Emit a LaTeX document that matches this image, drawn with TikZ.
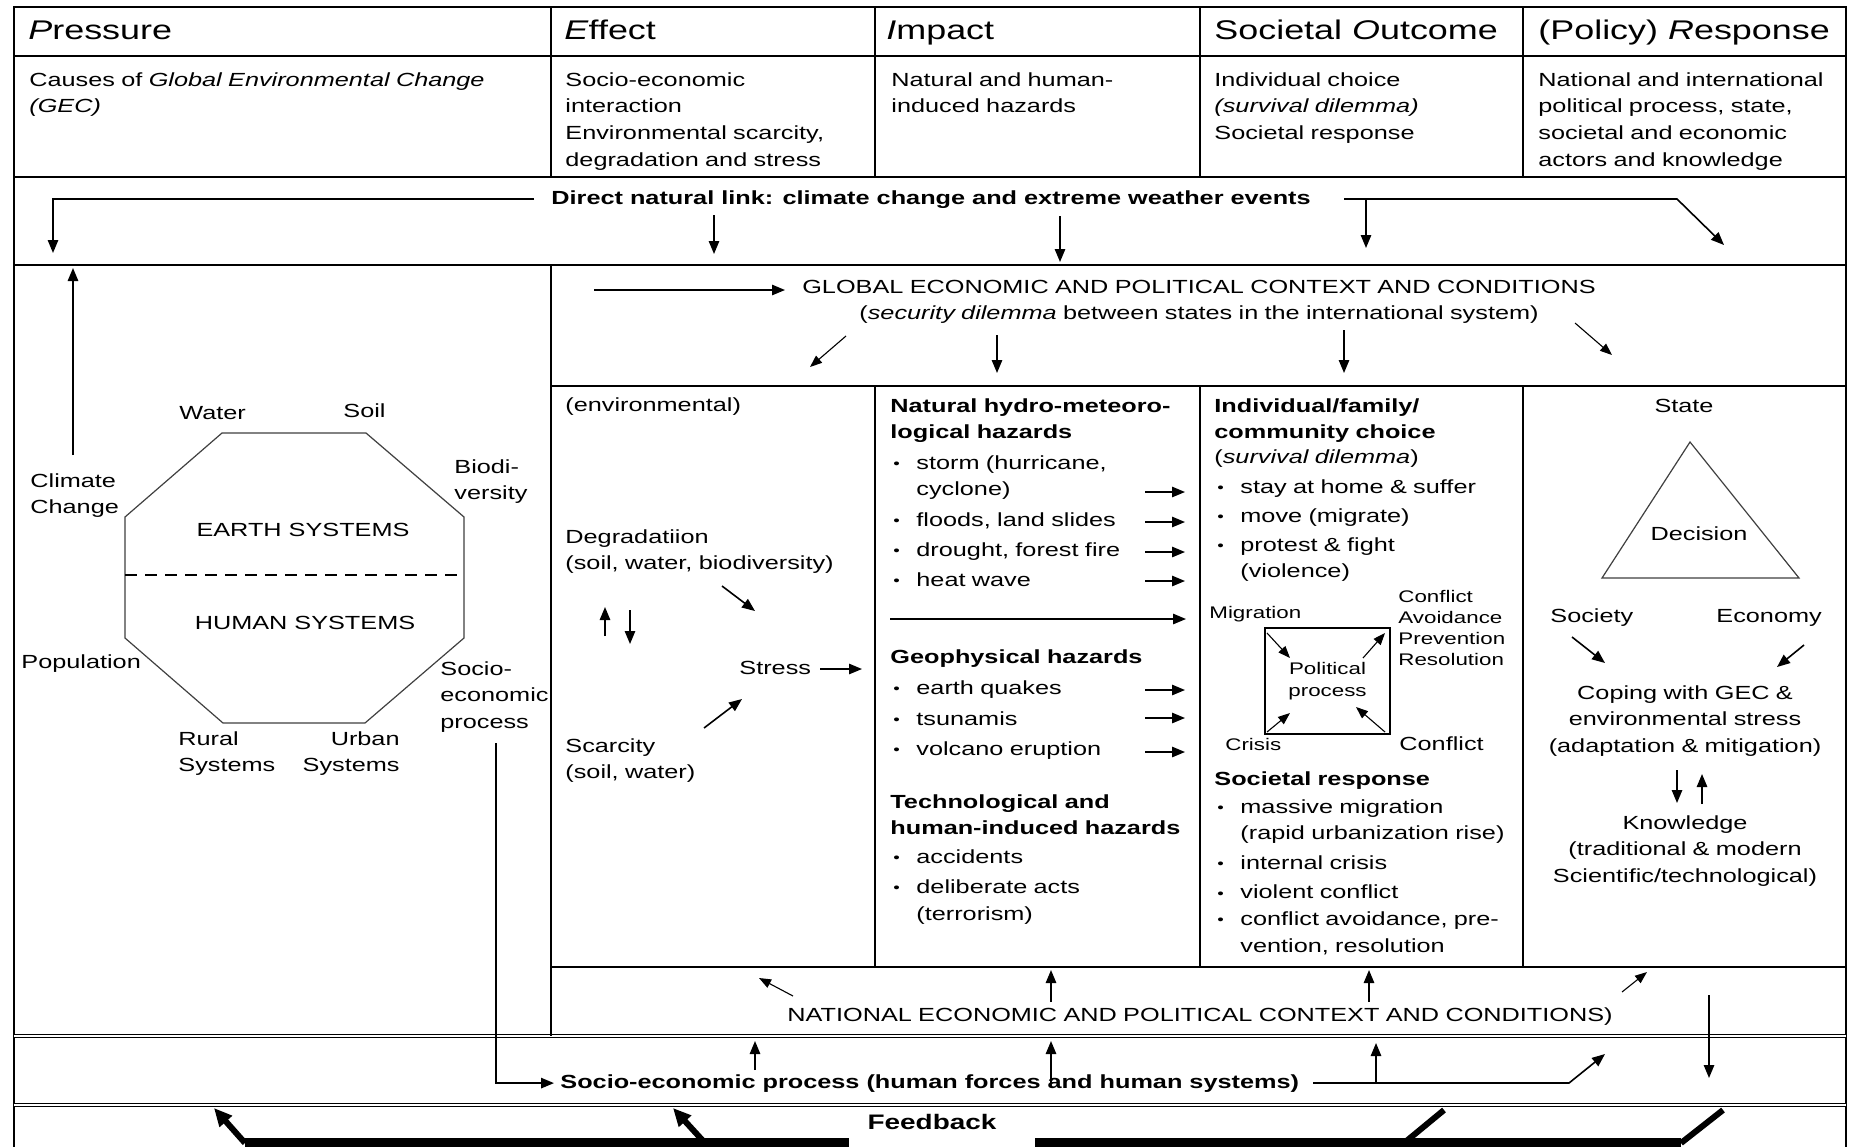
\documentclass[tikz,border=0pt]{standalone}
\usepackage{fontspec}
\setmainfont{Liberation Sans}[FakeStretch=1.33]
\usetikzlibrary{arrows.meta}

\newcommand{\bodyfont}{\fontsize{9.5pt}{13.35pt}\selectfont}
\newcommand{\headfont}{\fontsize{13.5pt}{16pt}\selectfont}
\newcommand{\smallfont}{\fontsize{8.4pt}{10.65pt}\selectfont}
\newcommand{\bitem}{\hspace*{1.5pt}\makebox[11.5pt][l]{\fontsize{7pt}{7pt}\selectfont\raisebox{0.4pt}{\textbullet}}}
\newcommand{\bcont}{\hspace*{13pt}}

\begin{document}
\begin{tikzpicture}[
        x=0.5pt, y=-0.5pt,
        grid_line/.style={line width=0.9pt},
        double_line/.style={double, line width=0.45pt, double distance=0.7pt},
        shape_line/.style={line width=0.6pt, black!75},
        arr/.style={-{Triangle[length=6.5pt,width=5.2pt]}, line width=0.8pt},
        thin_arr/.style={-{Triangle[length=6pt,width=4.6pt]}, line width=0.55pt},
        fat_arr/.style={-{Triangle[length=9pt,width=8pt]}, line width=3pt},
        text_l/.style={inner sep=0pt, anchor=base west, align=left, text width=250pt, font=\bodyfont},
        text_c/.style={inner sep=0pt, anchor=base, align=center, text width=420pt, font=\bodyfont},
        text_r/.style={inner sep=0pt, anchor=base east, align=right, text width=100pt, font=\bodyfont},
        text_s/.style={inner sep=0pt, anchor=base west, align=left, text width=100pt, font=\smallfont},
        text_line/.style={inner sep=0pt, anchor=base west, font=\bodyfont\bfseries},
        head_label/.style={inner sep=0pt, anchor=base west, font=\headfont}
    ]
    \useasboundingbox (0,0) rectangle (1850,1146);
    \fill[white] (0,0) rectangle (1850,1146);

    % Frame, rows and columns
    \draw[grid_line] (14,7) rectangle (1846,1160);
    \draw[grid_line] (14,56) -- (1846,56);
    \draw[grid_line] (14,177) -- (1846,177);
    \draw[grid_line] (14,265) -- (1846,265);
    \draw[grid_line] (551,386) -- (1846,386);
    \draw[grid_line] (551,967) -- (1846,967);
    \draw[double_line] (14,1036) -- (1846,1036);
    \draw[double_line] (14,1105) -- (1846,1105);
    \foreach \x in {551,875,1200,1523}
        \draw[grid_line] (\x,7) -- (\x,177);
    \draw[grid_line] (551,265) -- (551,1036);
    \foreach \x in {875,1200,1523}
        \draw[grid_line] (\x,386) -- (\x,967);

    % Column heads
    \node[head_label] (head_p) at (28,39) {\textit{P}ressure};
    \node[head_label] (head_e) at (564,39) {\textit{E}ffect};
    \node[head_label] (head_i) at (886,39) {\textit{I}mpact};
    \node[head_label] (head_s) at (1214,39) {Societal \textit{O}utcome};
    \node[head_label] (head_r) at (1538,39) {(Policy) \textit{R}esponse};

    % Descriptions
    \node[text_l] (desc_p) at (29,86) {Causes of \textit{Global Environmental Change}\\\textit{(GEC)}};
    \node[text_l] (desc_e) at (565,86) {Socio-economic\\interaction\\Environmental scarcity,\\degradation and stress};
    \node[text_l] (desc_i) at (891,86) {Natural and human-\\induced hazards};
    \node[text_l] (desc_s) at (1214,86) {Individual choice\\\textit{(survival dilemma)}\\Societal response};
    \node[text_l] (desc_r) at (1538,86) {National and international\\political process, state,\\societal and economic\\actors and knowledge};

    % Direct natural link
    \node[text_line] (direct) at (551,204) {Direct natural link: climate change and extreme weather events};
    \coordinate (direct_l) at (534,199);
    \coordinate (direct_ll) at (53,253);
    \draw[arr] (direct_l) -| (direct_ll);
    \coordinate (direct_r) at (1344,199);
    \coordinate (direct_rk) at (1677,199);
    \coordinate (direct_rr) at (1724,245);
    \draw[arr] (direct_r) -- (direct_rk) -- (direct_rr);
    \foreach \xa/\ya/\xb/\yb [count=\i] in {714/215/714/254, 1060/216/1060/262, 1366/199/1366/248}{
        \coordinate (dn\i_s) at (\xa,\ya);
        \coordinate (dn\i_e) at (\xb,\yb);
        \draw[arr] (dn\i_s) -- (dn\i_e);
    }

    % Global context
    \node[text_c] (global) at (1199,293) {GLOBAL ECONOMIC AND POLITICAL CONTEXT AND CONDITIONS\\(\textit{security dilemma} between states in the international system)};
    \foreach \xa/\ya/\xb/\yb [count=\i] in {594/290/785/290, 997/335/997/373, 1344/330/1344/373}{
        \coordinate (gl\i_s) at (\xa,\ya);
        \coordinate (gl\i_e) at (\xb,\yb);
        \draw[arr] (gl\i_s) -- (gl\i_e);
    }
    \foreach \xa/\ya/\xb/\yb [count=\i] in {846/336/810/367, 1575/323/1612/355}{
        \coordinate (gd\i_s) at (\xa,\ya);
        \coordinate (gd\i_e) at (\xb,\yb);
        \draw[thin_arr] (gd\i_s) -- (gd\i_e);
    }

    % Pressure: earth and human systems
    \node[text_l] (climate) at (30,487) {Climate\\Change};
    \coordinate (climate_s) at (73,455);
    \coordinate (climate_e) at (73,268);
    \draw[arr] (climate_s) -- (climate_e);
    \draw[shape_line] (222,433) -- (366,433) -- (464,517) -- (464,638) -- (365,723)
        -- (223,723) -- (125,638) -- (125,517) -- cycle;
    \draw[line width=0.7pt, dash pattern=on 6pt off 4pt] (125,575) -- (464,575);
    \node[inner sep=0pt, font=\bodyfont] (earth) at (303,530) {EARTH SYSTEMS};
    \node[inner sep=0pt, font=\bodyfont] (human) at (305,623) {HUMAN SYSTEMS};
    \node[text_l] (water) at (179,419) {Water};
    \node[text_l] (soil) at (343,417) {Soil};
    \node[text_l] (biodiv) at (454,473) {Biodi-\\versity};
    \node[text_l] (population) at (21,668) {Population};
    \node[text_l] (socio_lab) at (440,675) {Socio-\\economic\\process};
    \node[text_l] (rural) at (178,745) {Rural\\Systems};
    \node[text_r] (urban) at (400,745) {Urban\\Systems};

    % Effect: scarcity, degradation, stress
    \node[text_l] (environ) at (565,411) {(environmental)};
    \node[text_l] (degrad) at (565,543) {Degradatiion\\(soil, water, biodiversity)};
    \node[text_l] (stress) at (739,674) {Stress};
    \node[text_l] (scarcity) at (565,752) {Scarcity\\(soil, water)};
    \foreach \xa/\ya/\xb/\yb [count=\i] in {722/586/755/611, 605/636/605/607, 630/610/630/644,
            820/669/862/669, 704/728/742/699}{
        \coordinate (ef\i_s) at (\xa,\ya);
        \coordinate (ef\i_e) at (\xb,\yb);
        \draw[arr] (ef\i_s) -- (ef\i_e);
    }

    % Impact: hazards
    \node[text_l] (hydro) at (890,412) {\textbf{Natural hydro-meteoro-}\\\textbf{logical hazards}\\[1.8pt]
        \bitem storm (hurricane,\\\bcont cyclone)\\[1.8pt]\bitem floods, land slides\\[1.8pt]
        \bitem drought, forest fire\\[1.8pt]\bitem heat wave};
    \node[text_l] (geo) at (890,663) {\textbf{Geophysical hazards}\\[2.5pt]\bitem earth quakes\\[1.8pt]
        \bitem tsunamis\\[1.8pt]\bitem volcano eruption};
    \node[text_l] (techno) at (890,808) {\textbf{Technological and}\\\textbf{human-induced hazards}\\[0.8pt]
        \bitem accidents\\[2pt]\bitem deliberate acts\\\bcont (terrorism)};
    \foreach \y [count=\i] in {492,522,552,581,690,718,752}{
        \coordinate (hz\i_s) at (1145,\y);
        \coordinate (hz\i_e) at (1185,\y);
        \draw[arr] (hz\i_s) -- (hz\i_e);
    }
    \coordinate (hz_long_s) at (890,619);
    \coordinate (hz_long_e) at (1186,619);
    \draw[arr] (hz_long_s) -- (hz_long_e);

    % Societal outcome
    \node[text_l] (choice) at (1214,412) {\textbf{Individual/family/}\\\textbf{community choice}\\[-1pt]
        (\textit{survival dilemma})\\[1.8pt]\bitem stay at home \& suffer\\[1pt]
        \bitem move (migrate)\\[1pt]\bitem protest \& fight\\\bcont (violence)};
    \node[text_s] (migration) at (1209,618) {Migration};
    \node[text_s] (avoid) at (1398,602) {Conflict\\Avoidance\\Prevention\\Resolution};
    \node[draw, line width=0.8pt, minimum width=62.5pt, minimum height=53pt, inner sep=0pt,
        align=center, font=\smallfont] (politic) at (1327.5,681) {Political\\process};
    \node[text_s] (crisis) at (1225,750) {Crisis};
    \node[text_l] (conflict) at (1399,750) {Conflict};
    \foreach \xa/\ya/\xb/\yb [count=\i] in {1267/633/1290/658, 1363/658/1385/633,
            1267/732/1290/713, 1385/732/1356/707}{
        \coordinate (pp\i_s) at (\xa,\ya);
        \coordinate (pp\i_e) at (\xb,\yb);
        \draw[thin_arr] (pp\i_s) -- (pp\i_e);
    }
    \node[text_l] (response) at (1214,785) {\textbf{Societal response}\\[0.7pt]
        \bitem massive migration\\\bcont (rapid urbanization rise)\\[1.3pt]
        \bitem internal crisis\\[1.5pt]\bitem violent conflict\\
        \bitem conflict avoidance, pre-\\\bcont vention, resolution};

    % Policy response
    \node[text_c] (state) at (1684,412) {State};
    \draw[shape_line] (1690,442) -- (1799,578) -- (1602,578) -- cycle;
    \node[inner sep=0pt, font=\bodyfont] (decision) at (1699,534) {Decision};
    \node[text_l] (society) at (1550,622) {Society};
    \node[text_l] (economy) at (1716,622) {Economy};
    \node[text_c] (coping) at (1685,699) {Coping with GEC \&\\environmental stress\\(adaptation \& mitigation)};
    \node[text_c] (knowledge) at (1685,829) {Knowledge\\(traditional \& modern\\Scientific/technological)};
    \foreach \xa/\ya/\xb/\yb [count=\i] in {1572/637/1605/663, 1804/645/1777/667,
            1677/770/1677/803, 1702/804/1702/774}{
        \coordinate (rs\i_s) at (\xa,\ya);
        \coordinate (rs\i_e) at (\xb,\yb);
        \draw[arr] (rs\i_s) -- (rs\i_e);
    }

    % National context
    \node[text_c] (national) at (1200,1021) {NATIONAL ECONOMIC AND POLITICAL CONTEXT AND CONDITIONS)};
    \foreach \xa/\ya/\xb/\yb [count=\i] in {1051/1002/1051/970, 1369/1002/1369/970, 1709/995/1709/1078}{
        \coordinate (na\i_s) at (\xa,\ya);
        \coordinate (na\i_e) at (\xb,\yb);
        \draw[arr] (na\i_s) -- (na\i_e);
    }
    \foreach \xa/\ya/\xb/\yb [count=\i] in {793/996/759/978, 1622/992/1647/972}{
        \coordinate (nd\i_s) at (\xa,\ya);
        \coordinate (nd\i_e) at (\xb,\yb);
        \draw[thin_arr] (nd\i_s) -- (nd\i_e);
    }

    % Socio-economic process
    \node[text_line] (socio) at (560,1088) {Socio-economic process (human forces and human systems)};
    \coordinate (socio_top) at (496,743);
    \draw[arr] (socio_top) |- ([xshift=-3pt]socio.west);
    \coordinate (socio_r) at (1313,1083);
    \coordinate (socio_rk) at (1569,1083);
    \coordinate (socio_rr) at (1605,1054);
    \draw[arr] (socio_r) -- (socio_rk) -- (socio_rr);
    \foreach \xa/\ya/\xb/\yb [count=\i] in {755/1070/755/1041, 1051/1083/1051/1041, 1376/1083/1376/1043}{
        \coordinate (so\i_s) at (\xa,\ya);
        \coordinate (so\i_e) at (\xb,\yb);
        \draw[arr] (so\i_s) -- (so\i_e);
    }

    % Feedback
    \node[inner sep=0pt, font=\fontsize{10.5pt}{12pt}\selectfont\bfseries] (feedback) at (932,1122) {Feedback};
    \coordinate (fb_l1) at (245,1143);
    \coordinate (fb_l2) at (849,1143);
    \coordinate (fb_l3) at (705,1143);
    \coordinate (fb_r1) at (1035,1143);
    \coordinate (fb_r2) at (1681,1143);
    \coordinate (fb_r3) at (1404,1143);
    \coordinate (fb_a1) at (214,1108);
    \coordinate (fb_a2) at (673,1108);
    \coordinate (fb_t1) at (1444,1110);
    \coordinate (fb_t2) at (1723,1110);
    \draw[line width=5pt] (fb_l1) -- (fb_l2);
    \draw[line width=5pt] (fb_r1) -- (fb_r2);
    \draw[fat_arr] (fb_l1) -- (fb_a1);
    \draw[fat_arr] (fb_l3) -- (fb_a2);
    \draw[line width=3pt] (fb_r3) -- (fb_t1);
    \draw[line width=3pt] (fb_r2) -- (fb_t2);
\end{tikzpicture}
\end{document}
